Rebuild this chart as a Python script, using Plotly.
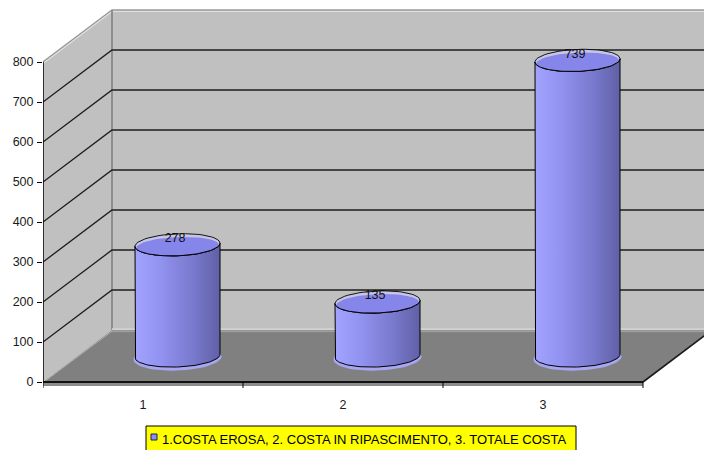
import numpy as np
import plotly.graph_objects as go

# ---- data ----
categories = ["1", "2", "3"]
values = [278, 135, 739]
y_ticks = [0, 100, 200, 300, 400, 500, 600, 700, 800]
legend_text = "1.COSTA EROSA, 2. COSTA IN RIPASCIMENTO, 3. TOTALE COSTA"

# ---- pseudo-3D geometry (category units on x, value units on y) ----
DEPTH_X = 0.345      # how far the back plane is shifted right
DEPTH_Y = 130        # how far the back plane is shifted up
Y_MAX = y_ticks[-1]
X0 = 0.5             # left edge of the category axis
X1 = len(categories) + 0.5
RX = 0.2125          # cylinder half-width
RY = 27.5            # ellipse half-height
TILT = 4             # ellipses rise slightly to the right

FONT = "Liberation Sans, Arial, sans-serif"
WALL = "#c0c0c0"
FLOOR = "#808080"

fig = go.Figure()


def poly(xs, ys, fill=None, line_color=None, width=1, **kw):
    fig.add_trace(go.Scatter(
        x=list(xs), y=list(ys), mode="lines",
        fill="toself" if fill else None,
        fillcolor=fill if isinstance(fill, str) else None,
        line=dict(color=line_color or "rgba(0,0,0,0)", width=width if line_color else 0),
        hoverinfo="skip", showlegend=False, **kw))


def line(xs, ys, color, width):
    fig.add_trace(go.Scatter(x=list(xs), y=list(ys), mode="lines",
                             line=dict(color=color, width=width),
                             hoverinfo="skip", showlegend=False))


bx0, bx1 = X0 + DEPTH_X, X1 + DEPTH_X
top = Y_MAX + DEPTH_Y

# walls
poly([X0, X0, bx0, bx0], [0, Y_MAX, top, DEPTH_Y], fill=WALL)
poly([bx0, bx0, bx1 + 0.2, bx1 + 0.2], [DEPTH_Y, top, top, DEPTH_Y], fill=WALL)

# wall rims
line([X0, bx0, bx1 + 0.2], [Y_MAX - 3, top - 3, top - 3], "#ececec", 1.2)
line([X0, bx0, bx1 + 0.2], [Y_MAX, top, top], "#9a9a9a", 1.4)
line([bx0, bx0], [DEPTH_Y, top], "#8e8e8e", 2)

# gridlines on the side wall and the back wall
gx, gy = [], []
for v in y_ticks[1:-1]:
    gx += [X0, bx0, bx1 + 0.2, None]
    gy += [v, v + DEPTH_Y, v + DEPTH_Y, None]
line(gx, gy, "#1c1c1c", 1.3)

# floor
poly([X0, X1, X1, X0], [0, 0, -10, -10], fill="#8c8c8c")
poly([X0, X1, bx1, bx0], [0, 0, DEPTH_Y, DEPTH_Y], fill=FLOOR)
line([bx0, bx1 + 0.2], [DEPTH_Y + 2, DEPTH_Y + 2], "#d2d2d2", 2)
line([bx0, bx1 + 0.2], [DEPTH_Y - 4, DEPTH_Y - 4], "#a4a4a4", 1)
line([X0 + 0.012, bx0], [3, DEPTH_Y - 3], "#b0b0b0", 1)
line([X1, bx1], [0, DEPTH_Y], "#1a1a1a", 1.6)
line([X0, X1], [0, 0], "#111111", 2)

# value axis line and category boundary ticks
line([X0, X0], [0, Y_MAX], "#000000", 1.5)
tx, ty = [], []
for b in np.arange(X0, X1 + 0.01, 1.0):
    tx += [b, b, None]
    ty += [0, -15, None]
line(tx, ty, "#000000", 1)


# cylinders
def ellipse(cx, cy, rx, ry, t0, t1, n=60):
    t = np.linspace(t0, t1, n)
    return cx + rx * np.cos(t), cy + ry * np.sin(t) + TILT * np.cos(t)


body_scale = [[0.0, "#a2a2ff"], [0.3, "#9292f0"], [0.7, "#7878cc"], [1.0, "#6060a6"]]

for i, v in enumerate(values):
    cx = i + 1 + DEPTH_X / 2
    yb = DEPTH_Y / 2
    yt = v + DEPTH_Y / 2

    # soft glow under the base
    ex, ey = ellipse(cx, yb - 5, RX + 0.008, RY + 4, 0, 2 * np.pi)
    poly(ex, ey, fill="#a6a6f2")

    # body outline: left side, front of base, right side, front of top
    fx, fy = ellipse(cx, yb, RX, RY, np.pi, 2 * np.pi)
    tx_, ty_ = ellipse(cx, yt, RX, RY, 2 * np.pi, np.pi)
    bxs = np.concatenate([[cx - RX], fx, tx_])
    bys = np.concatenate([[yt - TILT], fy, ty_])
    fig.add_trace(go.Scatter(
        x=bxs, y=bys, mode="lines", fill="toself",
        fillgradient=dict(type="horizontal", colorscale=body_scale),
        line=dict(color="#000000", width=1),
        hoverinfo="skip", showlegend=False))

    # top cap
    ox, oy = ellipse(cx, yt, RX, RY, 0, 2 * np.pi)
    poly(ox, oy, fill="#c6c6e4", line_color="#000000", width=0.9)
    ix, iy = ellipse(cx, yt - 4, RX - 0.006, RY - 4, 0, 2 * np.pi)
    poly(ix, iy, fill="#8686ea")
    ax_, ay_ = ellipse(cx, yt, RX, RY, np.pi, 2 * np.pi)
    line(ax_, ay_, "#000000", 1)

# value labels on the caps
fig.add_trace(go.Scatter(
    x=[i + 1 + DEPTH_X / 2 - 0.012 for i in range(len(values))],
    y=[v + DEPTH_Y / 2 + 15 for v in values],
    mode="text", text=[str(v) for v in values],
    textposition="middle center",
    textfont=dict(family=FONT, size=12.5, color="#111111"),
    hoverinfo="skip", showlegend=False, cliponaxis=False))

# ---- layout ----
W, H = 704, 450
ML, MB = 43, 60
plot_w, plot_h = W - ML, H - MB
px_per_cat = 200
px_per_val = 0.4
x_range = [X0, X0 + plot_w / px_per_cat]
y_bottom = -(plot_h - 382) / px_per_val
y_range = [y_bottom, y_bottom + plot_h / px_per_val]


def paper_x(px):
    return (px - ML) / plot_w


def paper_y(py):
    return (plot_h - py) / plot_h


# legend box drawn by hand
fig.add_shape(type="rect", xref="paper", yref="paper",
              x0=paper_x(146), x1=paper_x(576), y0=paper_y(452), y1=paper_y(426),
              fillcolor="#ffff00", line=dict(color="#000000", width=1))
fig.add_shape(type="rect", xref="paper", yref="paper",
              x0=paper_x(151), x1=paper_x(157), y0=paper_y(440), y1=paper_y(434),
              fillcolor="#8c8cff", line=dict(color="#202050", width=1))
fig.add_annotation(xref="paper", yref="paper", x=paper_x(160), y=paper_y(439),
                   xanchor="left", yanchor="middle", showarrow=False,
                   text=legend_text,
                   font=dict(family=FONT, size=13, color="#000000"))

tick_font = dict(family=FONT, size=12.5, color="#1a1a1a")
fig.update_layout(
    width=W, height=H,
    margin=dict(l=ML, r=0, t=0, b=MB),
    paper_bgcolor="#ffffff", plot_bgcolor="#ffffff",
    hovermode=False, showlegend=False,
    xaxis=dict(range=x_range, showgrid=False, zeroline=False, showline=False,
               tickmode="array", tickvals=[1, 2, 3], ticktext=categories,
               ticks="", ticklabelstandoff=5, tickfont=tick_font,
               fixedrange=True),
    yaxis=dict(range=y_range, showgrid=False, zeroline=False, showline=False,
               tickmode="array", tickvals=y_ticks,
               ticktext=[str(t) for t in y_ticks],
               ticks="outside", ticklen=5, tickwidth=1, tickcolor="#000000",
               ticklabelstandoff=1, tickfont=tick_font,
               fixedrange=True),
)

fig.write_html("out.html")
